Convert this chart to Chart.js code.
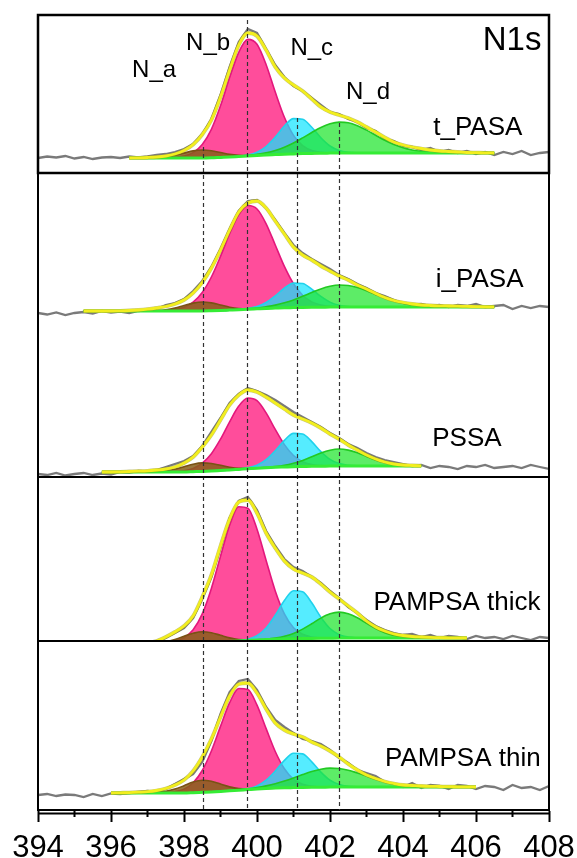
<!DOCTYPE html>
<html>
<head>
<meta charset="utf-8">
<script src="https://cdn.jsdelivr.net/npm/chart.js@4.4.1/dist/chart.umd.min.js"></script>
<style>
  html, body { margin: 0; padding: 0; background: #fff; }
</style>
</head>
<body>
<canvas id="xpsChart" width="577" height="858"></canvas>
<script>
const _ = null;

// binding energy grid (eV)
const energy = [
  394, 394.25, 394.5, 394.75, 395, 395.25, 395.5, 395.75, 396, 396.25,
  396.5, 396.75, 397, 397.25, 397.5, 397.75, 398, 398.25, 398.5, 398.75,
  399, 399.25, 399.5, 399.75, 400, 400.25, 400.5, 400.75, 401, 401.25,
  401.5, 401.75, 402, 402.25, 402.5, 402.75, 403, 403.25, 403.5, 403.75,
  404, 404.25, 404.5, 404.75, 405, 405.25, 405.5, 405.75, 406, 406.25,
  406.5, 406.75, 407, 407.25, 407.5, 407.75, 408
];

// ---- t_PASA ----
const tPasaData = [
  -1, 0.5, -0.5, 1, -1.5, 0, -2, -0.5, 0, -1,
  0.5, -0.5, 0.5, 2, 3, 5, 8, 13, 23, 38,
  62, 90, 115, 128, 124, 108, 92, 80, 71, 66,
  59, 52, 45, 43, 38, 35, 29, 26, 18, 16,
  11, 10, 7, 9, 5, 7, 4, 6, 3, 5,
  2, 5, 3, 6, 2, 4, 5
];
const tPasaBg = [
  _, _, _, _, _, _, _, _, _, _,
  -1, -1, -1, -1, -1, -1, -1, -1, -1, -0.8,
  -0.4, 0, 0.5, 1, 1.5, 2, 2.4, 2.8, 3.1, 3.4,
  3.6, 3.8, 3.9, 4, 4, 4, 4, 4, 4, 4,
  4, 4, 4, 4, 4, 4, 4, 4, 4, 4,
  4, _, _, _, _, _, _
];
const tPasaFit = [
  _, _, _, _, _, _, _, _, _, _,
  -1, -0.8, -0.5, 0, 1, 3, 6.5, 12.5, 22.5, 37,
  60, 87, 112, 124, 121, 107, 90, 79, 72, 66,
  58, 50, 45, 42, 39, 35, 30, 25, 19.5, 15,
  12, 10, 8.5, 7, 6, 5.5, 5, 4.5, 4.3, 4.1,
  4, _, _, _, _, _, _
];
const tPasaNa = [
  0, 0, 0, 0, 0, 0, 0, 0, 0, 0,
  0, 0, 0.1, 0.4, 1.1, 2.6, 4.9, 7.1, 8, 7.1,
  4.9, 2.6, 1.1, 0.4, 0.1, 0, 0, 0, 0, 0,
  0, 0, 0, 0, 0, 0, 0, 0, 0, 0,
  0, 0, 0, 0, 0, 0, 0, 0, 0, 0,
  0, 0, 0, 0, 0, 0, 0
];
const tPasaNb = [
  0, 0, 0, 0, 0, 0, 0, 0, 0, 0,
  0, 0, 0, 0, 0, 0.6, 1.9, 5.4, 13.5, 28.5,
  51.6, 79.4, 104.2, 116.6, 111.2, 90.3, 62.5, 36.9, 18.5, 8,
  2.9, 0.9, 0, 0, 0, 0, 0, 0, 0, 0,
  0, 0, 0, 0, 0, 0, 0, 0, 0, 0,
  0, 0, 0, 0, 0, 0, 0
];
const tPasaNc = [
  0, 0, 0, 0, 0, 0, 0, 0, 0, 0,
  0, 0, 0, 0, 0, 0, 0, 0, 0, 0,
  0, 0, 0.2, 0.9, 3.2, 8.5, 17.5, 28.2, 35.3, 34.4,
  26.1, 15.5, 7.1, 2.6, 0.7, 0.1, 0, 0, 0, 0,
  0, 0, 0, 0, 0, 0, 0, 0, 0, 0,
  0, 0, 0, 0, 0, 0, 0
];
const tPasaNd = [
  0, 0, 0, 0, 0, 0, 0, 0, 0, 0,
  0, 0, 0, 0, 0, 0, 0, 0, 0, 0,
  0, 0, 0.2, 0.6, 1.2, 2.3, 4.2, 7, 10.9, 15.7,
  20.9, 25.7, 29.3, 30.9, 30.3, 27.3, 22.9, 17.8, 12.7, 8.5,
  5.2, 3, 1.6, 0.8, 0.3, 0.2, 0, 0, 0, 0,
  0, 0, 0, 0, 0, 0, 0
];

// ---- i_PASA ----
const iPasaData = [
  -2, -3.5, -1.5, -4, -2, -1, -2.5, 0, -1.5, -0.5,
  -2, 0, 1, 2, 6, 8, 12, 20, 30, 44,
  62, 82, 100, 110, 111, 103, 91, 78, 66, 58,
  52, 47, 42, 36, 32, 27, 23, 18, 15, 11,
  8, 6, 7, 5, 6, 4, 6, 5, 7, 4,
  5, 6, 2, 5, 3, 5, 4
];
const iPasaBg = [
  _, _, _, _, _, 0, 0, 0, 0, 0,
  0, 0, 0, 0, 0, 0, 0, 0, 0, 0.2,
  0.5, 0.9, 1.3, 1.8, 2.2, 2.6, 2.9, 3.2, 3.4, 3.6,
  3.7, 3.8, 3.9, 4, 4, 4, 4, 4, 4, 4,
  4, 4, 4, 4, 4, 4, 4, 4, 4, 4,
  4, _, _, _, _, _, _
];
const iPasaFit = [
  _, _, _, _, _, 0, 0, 0, 0, 0.2,
  0.5, 1, 1.8, 3, 4.5, 7, 11, 18, 28.5, 43,
  61, 81, 99, 108, 110, 103, 90, 77, 64, 56,
  51, 45, 40, 35, 31, 26, 22, 17.5, 13.5, 10.5,
  8.5, 7, 6, 5.5, 5.2, 5, 4.8, 4.6, 4.4, 4.2,
  4.1, _, _, _, _, _, _
];
const iPasaNa = [
  0, 0, 0, 0, 0, 0, 0, 0, 0, 0,
  0, 0, 0.1, 0.4, 1.2, 2.9, 5.5, 7.9, 9, 7.9,
  5.5, 2.9, 1.2, 0.4, 0.1, 0, 0, 0, 0, 0,
  0, 0, 0, 0, 0, 0, 0, 0, 0, 0,
  0, 0, 0, 0, 0, 0, 0, 0, 0, 0,
  0, 0, 0, 0, 0, 0, 0
];
const iPasaNb = [
  0, 0, 0, 0, 0, 0, 0, 0, 0, 0,
  0, 0, 0, 0.1, 0.5, 1.5, 3.8, 8.9, 18.5, 33.8,
  54.1, 76.3, 94.8, 103.7, 99.8, 84.6, 63.1, 41.4, 23.9, 12.2,
  5.4, 2.2, 0.7, 0.2, 0, 0, 0, 0, 0, 0,
  0, 0, 0, 0, 0, 0, 0, 0, 0, 0,
  0, 0, 0, 0, 0, 0, 0
];
const iPasaNc = [
  0, 0, 0, 0, 0, 0, 0, 0, 0, 0,
  0, 0, 0, 0, 0, 0, 0, 0, 0, 0,
  0, 0, 0.2, 0.7, 2.2, 5.9, 12.2, 19.6, 24.5, 23.9,
  18.2, 10.8, 5, 1.8, 0.5, 0.1, 0, 0, 0, 0,
  0, 0, 0, 0, 0, 0, 0, 0, 0, 0,
  0, 0, 0, 0, 0, 0, 0
];
const iPasaNd = [
  0, 0, 0, 0, 0, 0, 0, 0, 0, 0,
  0, 0, 0, 0, 0, 0, 0, 0, 0, 0,
  0, 0, 0.2, 0.4, 0.8, 1.7, 3, 5, 7.7, 11.1,
  14.8, 18.3, 20.8, 22, 21.5, 19.4, 16.3, 12.6, 9, 6,
  3.7, 2.1, 1.1, 0.6, 0.2, 0.1, 0, 0, 0, 0,
  0, 0, 0, 0, 0, 0, 0
];

// ---- PSSA ----
const pssaData = [
  -2, -3, -1, -3.5, -2, -1, -3, -1.5, -2.5, 0,
  -0.5, 1, 0.5, 2, 5, 8, 11, 16, 26, 40,
  54, 69, 78, 84, 81, 77, 72, 66, 60, 55,
  50, 45, 39, 34, 28, 24, 19, 15, 12, 10,
  8, 6, 7, 4, 6, 5, 3, 6, 5, 7,
  4, 5, 6, 4, 7, 5, 3
];
const pssaBg = [
  _, _, _, _, _, _, _, 0, 0, 0,
  0, 0, 0, 0, 0, 0, 0, 0.3, 0.6, 1,
  1.5, 2, 2.6, 3.2, 3.8, 4.3, 4.7, 5, 5.3, 5.5,
  5.7, 5.8, 5.9, 6, 6, 6, 6, 6, 6, 6,
  6, 6, 6, _, _, _, _, _, _, _,
  _, _, _, _, _, _, _
];
const pssaFit = [
  _, _, _, _, _, _, _, 0, 0, 0.2,
  0.5, 0.8, 1.2, 2, 3, 5, 9, 15, 25, 37,
  52, 67, 77, 82, 80, 75, 69, 63, 57, 53,
  49, 44, 38, 33, 27, 22, 17, 13, 10, 8,
  7, 6.5, 6.1, _, _, _, _, _, _, _,
  _, _, _, _, _, _, _
];
const pssaNa = [
  0, 0, 0, 0, 0, 0, 0, 0, 0, 0,
  0, 0, 0.1, 0.4, 1.1, 2.8, 5.2, 7.5, 8.5, 7.5,
  5.2, 2.8, 1.1, 0.4, 0.1, 0, 0, 0, 0, 0,
  0, 0, 0, 0, 0, 0, 0, 0, 0, 0,
  0, 0, 0, 0, 0, 0, 0, 0, 0, 0,
  0, 0, 0, 0, 0, 0, 0
];
const pssaNb = [
  0, 0, 0, 0, 0, 0, 0, 0, 0, 0,
  0, 0, 0, 0, 0, 0.4, 1.1, 3.3, 8.2, 17.3,
  31.3, 48.2, 63.3, 70.8, 67.5, 54.8, 37.9, 22.4, 11.2, 4.8,
  1.8, 0.6, 0, 0, 0, 0, 0, 0, 0, 0,
  0, 0, 0, 0, 0, 0, 0, 0, 0, 0,
  0, 0, 0, 0, 0, 0, 0
];
const pssaNc = [
  0, 0, 0, 0, 0, 0, 0, 0, 0, 0,
  0, 0, 0, 0, 0, 0, 0, 0, 0, 0,
  0, 0, 0.2, 0.9, 3, 8, 16.6, 26.6, 33.3, 32.5,
  24.7, 14.6, 6.7, 2.4, 0.7, 0.1, 0, 0, 0, 0,
  0, 0, 0, 0, 0, 0, 0, 0, 0, 0,
  0, 0, 0, 0, 0, 0, 0
];
const pssaNd = [
  0, 0, 0, 0, 0, 0, 0, 0, 0, 0,
  0, 0, 0, 0, 0, 0, 0, 0, 0, 0,
  0, 0, 0, 0, 0.1, 0.3, 0.7, 1.7, 3.5, 6.1,
  9.6, 13.2, 15.9, 17, 15.9, 13.2, 9.6, 6.1, 3.5, 1.7,
  0.7, 0.3, 0.1, 0, 0, 0, 0, 0, 0, 0,
  0, 0, 0, 0, 0, 0, 0
];

// ---- PAMPSA thick ----
const thickData = [
  -4, -3, -5, -2.5, -6, -3, -4, -2, -4.5, -2,
  -3.5, -1, 0, 1, 5, 10, 15, 25, 44, 66,
  95, 125, 142, 146, 133, 112, 97, 84, 76, 72,
  66, 60, 52, 45, 36, 30, 23, 17, 13, 10,
  8, 9, 6, 8, 5, 7, 6, 4, 7, 5,
  6, 4, 7, 5, 3, 6, 5
];
const thickBg = [
  _, _, _, _, _, _, _, _, _, _,
  _, _, 0, 0, 0, 0, 0, 0, 0.3, 0.6,
  1, 1.5, 2, 2.5, 3, 3.4, 3.8, 4.1, 4.3, 4.5,
  4.6, 4.7, 4.8, 4.9, 4.9, 5, 5, 5, 5, 5,
  5, 5, 5, 5, 5, 5, 5, 5, _, _,
  _, _, _, _, _, _, _
];
const thickFit = [
  _, _, _, _, _, _, _, _, _, _,
  _, _, 0.2, 2, 6, 11, 17, 27, 46, 68,
  97, 124, 141, 143, 130, 110, 95, 82, 74, 70,
  66, 59, 51, 44, 37, 30, 22, 16, 12, 9,
  7.5, 6.5, 6, 5.6, 5.3, 5.2, 5.1, 5, _, _,
  _, _, _, _, _, _, _
];
const thickNa = [
  0, 0, 0, 0, 0, 0, 0, 0, 0, 0,
  0, 0, 0.1, 0.5, 1.5, 3.6, 6.7, 9.7, 11, 9.7,
  6.7, 3.6, 1.5, 0.5, 0.1, 0, 0, 0, 0, 0,
  0, 0, 0, 0, 0, 0, 0, 0, 0, 0,
  0, 0, 0, 0, 0, 0, 0, 0, 0, 0,
  0, 0, 0, 0, 0, 0, 0
];
const thickNb = [
  0, 0, 0, 0, 0, 0, 0, 0, 0, 0,
  0, 0, 0, 0, 0.5, 1.8, 5.2, 13.2, 28.8, 54,
  85.8, 116.3, 134.2, 132.2, 110.8, 79.2, 48.3, 25, 11, 4.2,
  1.4, 0.4, 0, 0, 0, 0, 0, 0, 0, 0,
  0, 0, 0, 0, 0, 0, 0, 0, 0, 0,
  0, 0, 0, 0, 0, 0, 0
];
const thickNc = [
  0, 0, 0, 0, 0, 0, 0, 0, 0, 0,
  0, 0, 0, 0, 0, 0, 0, 0, 0, 0,
  0, 0, 0.3, 1.3, 4.4, 11.6, 23.9, 38.4, 48, 46.8,
  35.6, 21.1, 9.7, 3.5, 1, 0.2, 0, 0, 0, 0,
  0, 0, 0, 0, 0, 0, 0, 0, 0, 0,
  0, 0, 0, 0, 0, 0, 0
];
const thickNd = [
  0, 0, 0, 0, 0, 0, 0, 0, 0, 0,
  0, 0, 0, 0, 0, 0, 0, 0, 0, 0,
  0, 0, 0, 0, 0.2, 0.4, 1.1, 2.6, 5.3, 9.4,
  14.6, 20.2, 24.4, 26, 24.4, 20.2, 14.6, 9.4, 5.3, 2.6,
  1.1, 0.4, 0.2, 0, 0, 0, 0, 0, 0, 0,
  0, 0, 0, 0, 0, 0, 0
];

// ---- PAMPSA thin ----
const thinData = [
  -2, -1, -3, -1.5, -2, -4, -1, -3, -0.5, -1,
  0, 1, 2, 1, 4, 9, 14, 19, 31, 52,
  79, 101, 112, 114, 103, 86, 73, 66, 60, 54,
  52, 49, 43, 35, 30, 23, 20, 17, 11, 9,
  6, 10, 5, 8, 7, 4, 8, 7, 4, 7,
  6, 3, 8, 5, 6, 3, 7
];
const thinBg = [
  _, _, _, _, _, _, _, _, 0, 0,
  0, 0, 0, 0, 0, 0, 0, 0.3, 0.7, 1.1,
  1.6, 2.2, 2.8, 3.4, 4, 4.5, 4.9, 5.2, 5.4, 5.6,
  5.7, 5.8, 5.9, 6, 6, 6, 6, 6, 6, 6,
  6, 6, 6, 6, 6, 6, 6, 6, 6, _,
  _, _, _, _, _, _, _
];
const thinFit = [
  _, _, _, _, _, _, _, _, 0, 0.2,
  0.4, 0.8, 1.3, 2.5, 4.5, 8, 13, 22, 36, 54,
  76, 97, 109, 110, 100, 84, 70, 63, 59, 56,
  51, 47, 42, 36, 29, 23, 18, 14.5, 11.5, 9.5,
  8, 7.5, 7, 6.7, 6.5, 6.3, 6.2, 6.1, 6, _,
  _, _, _, _, _, _, _
];
const thinNa = [
  0, 0, 0, 0, 0, 0, 0, 0, 0, 0,
  0, 0, 0.1, 0.5, 1.6, 3.9, 7.3, 10.6, 12, 10.6,
  7.3, 3.9, 1.6, 0.5, 0.1, 0, 0, 0, 0, 0,
  0, 0, 0, 0, 0, 0, 0, 0, 0, 0,
  0, 0, 0, 0, 0, 0, 0, 0, 0, 0,
  0, 0, 0, 0, 0, 0, 0
];
const thinNb = [
  0, 0, 0, 0, 0, 0, 0, 0, 0, 0,
  0, 0, 0, 0, 0.4, 1.3, 3.9, 10, 21.8, 40.9,
  65, 88.1, 101.7, 100.1, 83.9, 59.9, 36.6, 19, 8.3, 3.2,
  1, 0.3, 0, 0, 0, 0, 0, 0, 0, 0,
  0, 0, 0, 0, 0, 0, 0, 0, 0, 0,
  0, 0, 0, 0, 0, 0, 0
];
const thinNc = [
  0, 0, 0, 0, 0, 0, 0, 0, 0, 0,
  0, 0, 0, 0, 0, 0, 0, 0, 0, 0,
  0, 0, 0.2, 0.9, 3.1, 8.3, 17, 27.4, 34.3, 33.5,
  25.4, 15.1, 6.9, 2.5, 0.7, 0.1, 0, 0, 0, 0,
  0, 0, 0, 0, 0, 0, 0, 0, 0, 0,
  0, 0, 0, 0, 0, 0, 0
];
const thinNd = [
  0, 0, 0, 0, 0, 0, 0, 0, 0, 0,
  0, 0, 0, 0, 0, 0, 0, 0, 0, 0,
  0, 0.2, 0.3, 0.7, 1.4, 2.6, 4.3, 6.7, 9.6, 12.8,
  15.8, 18, 19, 18.5, 16.8, 14, 10.9, 7.8, 5.2, 3.2,
  1.8, 1, 0.5, 0.2, 0.1, 0, 0, 0, 0, 0,
  0, 0, 0, 0, 0, 0, 0
];

// labels and reference lines
const sampleNames = ['t_PASA', 'i_PASA', 'PSSA', 'PAMPSA thick', 'PAMPSA thin'];
const peakLabels = ['N_a', 'N_b', 'N_c', 'N_d'];
const markerEnergy = [398.52, 399.73, 401.1, 402.25];
const xTickMinor = [395, 397, 399, 401, 403, 405, 407];

// panel setup: axis ranges / heights, label anchors (energy, intensity)
const panels = [
  {axis: 'y1', raw: tPasaData, bg: tPasaBg, fit: tPasaFit, comps: [tPasaNa, tPasaNb, tPasaNc, tPasaNd],
   min: -16, max: 142, weight: 158, nameAt: [406.05, 29]},
  {axis: 'y2', raw: iPasaData, bg: iPasaBg, fit: iPasaFit, comps: [iPasaNa, iPasaNb, iPasaNc, iPasaNd],
   min: -19, max: 138, weight: 157, nameAt: [406.1, 31.5]},
  {axis: 'y3', raw: pssaData, bg: pssaBg, fit: pssaFit, comps: [pssaNa, pssaNb, pssaNc, pssaNd],
   min: -5, max: 142, weight: 147, nameAt: [405.75, 33]},
  {axis: 'y4', raw: thickData, bg: thickBg, fit: thickFit, comps: [thickNa, thickNb, thickNc, thickNd],
   min: 2, max: 166, weight: 164, nameAt: [405.48, 40]},
  {axis: 'y5', raw: thinData, bg: thinBg, fit: thinFit, comps: [thinNa, thinNb, thinNc, thinNd],
   min: -17, max: 152, weight: 169, nameAt: [405.64, 34]}
];
const peakLabelAt = [[397.18, 87], [398.66, 114], [401.5, 109], [403.04, 65]];
const markerTopAt = [10, 137, 39, 34]; // in t_PASA intensity units
const titleAt = [406.99, 116];

const compStyle = [
  {fill: 'rgba(135, 95, 25, 0.85)', line: '#7a5214', order: 5},   // N_a
  {fill: 'rgba(255, 62, 146, 0.92)', line: '#e3177c', order: 6},  // N_b
  {fill: 'rgba(20, 228, 255, 0.72)', line: '#20d2ec', order: 4},  // N_c
  {fill: 'rgba(30, 228, 45, 0.72)', line: '#22c922', order: 3}    // N_d
];
const FONT = '"Liberation Sans", Arial, sans-serif';

const datasets = [];
panels.forEach((p) => {
  const onBg = (h) => p.bg.map((b, i) => (b === null ? null : b + h[i]));
  datasets.push({data: p.raw, yAxisID: p.axis, borderColor: '#7a7a7a', borderWidth: 2.3, order: 7});
  const bgIndex = datasets.length;
  datasets.push({data: p.bg, yAxisID: p.axis, borderColor: '#35ec35', borderWidth: 3, order: 2,
    cubicInterpolationMode: 'monotone'});
  p.comps.forEach((c, k) => {
    datasets.push({data: onBg(c), yAxisID: p.axis, fill: bgIndex,
      backgroundColor: compStyle[k].fill, borderColor: compStyle[k].line, borderWidth: 1.6,
      order: compStyle[k].order, cubicInterpolationMode: 'monotone'});
  });
  datasets.push({data: p.fit, yAxisID: p.axis, borderColor: 'rgba(150, 150, 30, 0.55)', borderWidth: 3.8,
    order: 1, cubicInterpolationMode: 'monotone'});
  datasets.push({data: p.fit, yAxisID: p.axis, borderColor: '#f2ee1e', borderWidth: 2.8,
    order: 0, cubicInterpolationMode: 'monotone'});
});

// stacked y axes: last defined sits on top
const scales = {
  x: {
    type: 'linear', min: 394, max: 408,
    afterFit: (scale) => {
      scale.height = 48;
      scale.paddingLeft = 0;
      scale.paddingRight = 0;
    },
    ticks: {stepSize: 2, color: '#000', padding: 11, maxRotation: 0, autoSkip: false,
      font: {family: FONT, size: 31, lineHeight: 1}},
    grid: {display: true, drawOnChartArea: false, drawTicks: true, tickLength: 12, tickWidth: 2, tickColor: '#000'},
    border: {display: true, color: '#000', width: 2}
  }
};
panels.slice().reverse().forEach((p) => {
  scales[p.axis] = {
    type: 'linear', position: 'left', stack: 'xps', stackWeight: p.weight,
    min: p.min, max: p.max,
    ticks: {display: false}, grid: {display: false, drawTicks: false}, border: {display: false}
  };
});

const framePlugin = {
  id: 'xpsFrame',
  afterDatasetsDraw(chart) {
    const {ctx, chartArea: a, scales: s} = chart;
    const x = s.x;
    ctx.save();
    // dashed guide lines
    ctx.strokeStyle = '#333';
    ctx.lineWidth = 1.2;
    ctx.setLineDash([4, 3]);
    markerEnergy.forEach((e, i) => {
      const px = Math.round(x.getPixelForValue(e)) + 0.5;
      ctx.beginPath();
      ctx.moveTo(px, s.y1.getPixelForValue(markerTopAt[i]));
      ctx.lineTo(px, a.bottom);
      ctx.stroke();
    });
    ctx.setLineDash([]);
    // frames
    ctx.strokeStyle = '#000';
    ctx.lineWidth = 2.5;
    ctx.strokeRect(a.left, s.y1.top, a.right - a.left, s.y1.bottom - s.y1.top);
    ctx.lineWidth = 2;
    ctx.beginPath();
    ctx.moveTo(a.left, s.y1.bottom); ctx.lineTo(a.left, a.bottom);
    ctx.moveTo(a.right, s.y1.bottom); ctx.lineTo(a.right, a.bottom);
    ctx.moveTo(a.left, s.y3.bottom); ctx.lineTo(a.right, s.y3.bottom);
    ctx.moveTo(a.left, s.y4.bottom); ctx.lineTo(a.right, s.y4.bottom);
    ctx.moveTo(a.left, a.bottom + 3.5); ctx.lineTo(a.right, a.bottom + 3.5);
    xTickMinor.forEach((e) => {
      const px = x.getPixelForValue(e);
      ctx.moveTo(px, a.bottom); ctx.lineTo(px, a.bottom + 7);
    });
    ctx.stroke();
    // text
    ctx.fillStyle = '#000';
    ctx.textAlign = 'center';
    ctx.textBaseline = 'middle';
    ctx.font = '24px ' + FONT;
    peakLabels.forEach((t, i) => {
      ctx.fillText(t, x.getPixelForValue(peakLabelAt[i][0]), s.y1.getPixelForValue(peakLabelAt[i][1]));
    });
    ctx.font = '33px ' + FONT;
    ctx.fillText('N1s', x.getPixelForValue(titleAt[0]), s.y1.getPixelForValue(titleAt[1]));
    ctx.font = '26px ' + FONT;
    panels.forEach((p, i) => {
      ctx.fillText(sampleNames[i], x.getPixelForValue(p.nameAt[0]), s[p.axis].getPixelForValue(p.nameAt[1]));
    });
    ctx.restore();
  }
};

new Chart(document.getElementById('xpsChart').getContext('2d'), {
  type: 'line',
  data: {labels: energy, datasets: datasets},
  options: {
    responsive: false,
    animation: false,
    devicePixelRatio: 1,
    layout: {padding: {left: 38, right: 28, top: 15, bottom: 0}},
    elements: {point: {radius: 0}, line: {tension: 0}},
    plugins: {legend: {display: false}, tooltip: {enabled: false}},
    scales: scales
  },
  plugins: [framePlugin]
});
</script>
</body>
</html>
